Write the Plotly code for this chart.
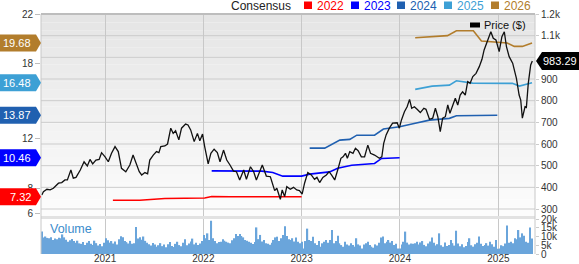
import plotly.graph_objects as go
import pandas as pd

# ---------------- data ----------------
price_dates = [
    "2020-05-11", "2020-05-17", "2020-05-30", "2020-06-11", "2020-06-23", "2020-07-12", "2020-07-24",
    "2020-08-05", "2020-08-14", "2020-08-27", "2020-09-05", "2020-09-15", "2020-10-01", "2020-10-15",
    "2020-10-27", "2020-11-06", "2020-11-16", "2020-11-28", "2020-12-10", "2020-12-19", "2021-01-01",
    "2021-01-13", "2021-01-25", "2021-02-07", "2021-02-19", "2021-03-03", "2021-03-19", "2021-04-03",
    "2021-04-15", "2021-04-28", "2021-05-08", "2021-05-17", "2021-05-29", "2021-06-08", "2021-06-16",
    "2021-06-29", "2021-07-11", "2021-07-20", "2021-07-27", "2021-08-11", "2021-08-21", "2021-09-02",
    "2021-09-11", "2021-09-20", "2021-10-02", "2021-10-12", "2021-10-27", "2021-11-05", "2021-11-15",
    "2021-11-28", "2021-12-10", "2021-12-19", "2021-12-29", "2022-01-06", "2022-01-19", "2022-01-29",
    "2022-02-10", "2022-02-22", "2022-03-04", "2022-03-17", "2022-03-29", "2022-04-10", "2022-04-23",
    "2022-05-04", "2022-05-16", "2022-05-31", "2022-06-10", "2022-06-25", "2022-07-07", "2022-07-17",
    "2022-07-27", "2022-08-08", "2022-08-23", "2022-09-07", "2022-09-23", "2022-10-01", "2022-10-14",
    "2022-10-21", "2022-10-30", "2022-11-07", "2022-11-20", "2022-12-02", "2022-12-14", "2022-12-24",
    "2023-01-03", "2023-01-12", "2023-01-24", "2023-02-06", "2023-02-18", "2023-02-27", "2023-03-09",
    "2023-03-21", "2023-04-03", "2023-04-13", "2023-04-22", "2023-05-04", "2023-05-17", "2023-05-27",
    "2023-06-04", "2023-06-13", "2023-06-20", "2023-06-29", "2023-07-11", "2023-07-20", "2023-07-30",
    "2023-08-11", "2023-08-23", "2023-09-04", "2023-09-14", "2023-09-29", "2023-10-17", "2023-10-26",
    "2023-11-02", "2023-11-11", "2023-11-23", "2023-12-05", "2023-12-22", "2023-12-30", "2024-01-07",
    "2024-01-18", "2024-01-28", "2024-02-06", "2024-02-14", "2024-02-24", "2024-03-05", "2024-03-17",
    "2024-03-30", "2024-04-07", "2024-04-20", "2024-05-02", "2024-05-12", "2024-05-21", "2024-05-30",
    "2024-06-08", "2024-06-18", "2024-06-27", "2024-07-05", "2024-07-15", "2024-07-25", "2024-08-03",
    "2024-08-12", "2024-08-21", "2024-08-31", "2024-09-09", "2024-09-18", "2024-09-28", "2024-10-10",
    "2024-10-22", "2024-11-01", "2024-11-09", "2024-11-16", "2024-11-26", "2024-12-04", "2024-12-13",
    "2024-12-23", "2025-01-04", "2025-01-14", "2025-01-23", "2025-01-31", "2025-02-10", "2025-02-23",
    "2025-03-09", "2025-03-19", "2025-03-25", "2025-03-31", "2025-04-10", "2025-04-15", "2025-04-22",
    "2025-05-01", "2025-05-07",
]
price_values = [
    365, 380, 391, 388, 396, 419, 422,
    434, 434, 480, 442, 446, 480, 518,
    499, 529, 508, 526, 529, 560, 541,
    518, 557, 588, 565, 488, 472, 503,
    549, 503, 472, 457, 468, 462, 526,
    549, 565, 560, 588, 591, 600, 673,
    649, 661, 619, 673, 692, 688, 665,
    611, 649, 615, 646, 588, 508, 557,
    576, 560, 518, 572, 526, 503, 475,
    472, 434, 480, 437, 495, 472, 434,
    465, 503, 452, 449, 385, 396, 345,
    388, 357, 403, 391, 400, 388, 385,
    369, 419, 468, 457, 437, 446, 422,
    446, 457, 472, 457, 434, 488, 534,
    541, 557, 534, 565, 557, 580, 569,
    541, 541, 595, 557, 549, 534, 541,
    603, 642, 673, 696, 698, 673, 711,
    749, 772, 806, 765, 772, 760, 745,
    765, 760, 714, 719, 765, 726, 657,
    719, 726, 780, 742, 780, 811, 780,
    826, 841, 826, 888, 880, 911, 926,
    957, 991, 1034, 1057, 1088, 1118, 1088,
    1080, 1026, 1095, 1118, 1049, 1003, 973,
    903, 826, 803, 719, 772, 769, 880,
    965, 983.29,
]

eps_2022_dates = ["2021-01-30", "2021-05-10", "2021-08-11", "2022-01-06", "2022-02-01", "2022-04-10", "2023-01-01"]
eps_2022 = [7.05, 7.05, 7.19, 7.23, 7.35, 7.33, 7.32]

eps_2023_dates = ["2022-02-01", "2022-04-28", "2022-08-06", "2022-09-16", "2022-10-23", "2023-01-01", "2023-01-31",
                  "2023-04-15", "2023-05-15", "2023-07-06", "2023-09-29", "2023-10-25", "2023-12-31"]
eps_2023 = [9.40, 9.40, 9.38, 9.27, 8.98, 8.98, 9.14, 9.32, 9.62, 9.86, 10.00, 10.40, 10.46]

eps_2024_dates = ["2023-01-31", "2023-03-28", "2023-05-23", "2023-06-29", "2023-07-25", "2023-09-29", "2023-11-01",
                  "2023-12-31", "2024-02-23", "2024-04-20", "2024-07-03", "2024-07-29", "2024-12-28"]
eps_2024 = [11.23, 11.23, 11.87, 11.93, 12.27, 12.27, 12.76, 12.94, 13.21, 13.48, 13.62, 13.83, 13.87]

eps_2025_dates = ["2024-02-27", "2024-04-30", "2024-07-03", "2024-07-29", "2024-09-27", "2025-02-22", "2025-03-20", "2025-05-06"]
eps_2025 = [15.95, 16.21, 16.29, 16.64, 16.45, 16.43, 16.21, 16.48]

eps_2026_dates = ["2024-02-27", "2024-06-26", "2024-07-29", "2024-09-30", "2024-10-30", "2025-02-03", "2025-03-01",
                  "2025-03-31", "2025-05-06"]
eps_2026 = [20.09, 20.26, 20.66, 20.66, 19.83, 19.67, 19.40, 19.40, 19.68]

# weekly volume (thousands), first week starting 2020-05-11
vol_start = "2020-05-11"
vol_2020 = [12.8, 9.5, 10.0, 9.2, 9.0, 9.6, 8.0, 8.8, 8.4, 9.3, 9.0, 11.2, 9.5, 8.2, 7.0, 7.8, 8.6, 7.5, 6.5, 7.6,
            6.1, 5.8, 6.8, 5.1, 6.5, 7.4, 5.8, 5.2, 7.6, 6.2, 4.8, 5.7, 4.5, 6.4]
vol_2021 = [9.0, 7.8, 6.5, 7.4, 6.0, 7.2, 5.5, 8.5, 10.2, 9.6, 7.4, 6.8, 6.0, 7.5, 5.8, 6.2, 15.4, 8.8, 9.6, 8.2,
            10.0, 7.5, 6.5, 5.6, 4.8, 6.3, 5.4, 4.2, 5.0, 6.2, 4.5, 5.4, 3.8, 5.6, 6.8, 4.6, 4.0, 5.8, 7.0, 5.1,
            4.4, 6.5, 8.5, 5.0, 6.0, 7.2, 8.8, 5.5, 6.4, 5.2, 6.0, 7.4]
vol_2022 = [10.9, 9.0, 11.8, 8.0, 19.0, 9.0, 7.4, 6.2, 6.8, 7.0, 8.4, 7.6, 7.0, 6.5, 6.2, 7.8, 9.0, 11.4, 10.3, 11.4,
            10.3, 9.5, 8.0, 7.6, 7.0, 6.5, 5.7, 6.8, 15.2, 8.5, 10.9, 7.2, 8.0, 6.2, 5.8, 5.3, 6.5, 8.0, 9.5, 9.9,
            7.5, 9.0, 10.9, 15.8, 10.3, 8.4, 8.0, 9.0, 7.2, 9.5, 7.0, 6.2]
vol_2023 = [7.0, 3.2, 7.4, 14.5, 8.0, 7.4, 9.9, 6.1, 5.1, 7.4, 4.2, 6.1, 7.0, 8.0, 6.5, 8.0, 13.7, 6.1, 7.5, 10.5,
            6.1, 5.1, 4.2, 7.0, 5.5, 4.8, 6.1, 5.1, 4.2, 9.0, 5.5, 4.8, 3.2, 5.5, 6.1, 7.0, 5.1, 4.2, 3.6, 5.5,
            4.8, 6.5, 9.5, 10.0, 6.1, 7.0, 8.0, 6.5, 7.4, 5.1, 5.8, 3.2]
vol_2024 = [3.2, 5.5, 7.0, 12.8, 6.5, 5.4, 6.0, 5.8, 6.2, 7.0, 5.4, 6.6, 7.4, 5.2, 4.4, 6.0, 7.2, 9.5, 6.4, 4.8,
            5.6, 11.8, 5.0, 4.2, 6.6, 4.6, 5.2, 8.0, 6.2, 4.8, 13.3, 6.0, 4.4, 5.6, 3.8, 4.6, 6.8, 9.0, 5.0, 4.2,
            5.6, 6.4, 10.0, 5.8, 4.6, 5.2, 6.2, 4.8, 7.0, 5.6, 4.2, 8.0]
vol_2025 = [3.0, 3.2, 5.0, 4.5, 6.0, 16.3, 6.5, 7.0, 6.2, 9.0, 8.5, 13.7, 9.5, 11.8, 10.5, 7.0, 6.5, 15.2, 8.9]

year_ticks = ["2021-01-01", "2022-01-01", "2023-01-01", "2024-01-01", "2025-01-01"]
year_labels = ["2021", "2022", "2023", "2024", "2025"]
# EPS ticks left visible by the value badges
eps_ticks = [6, 8, 12, 18, 22]
price_ticks = [300, 400, 500, 600, 700, 800, 900, 1100, 1200]
price_labels = ["300", "400", "500", "600", "700", "800", "900", "1.1k", "1.2k"]
price_grid = [300, 400, 500, 600, 700, 800, 900, 1000, 1100, 1200]
vol_ticks = [0, 5, 10, 15, 20]
vol_labels = ["0", "5k", "10k", "15k", "20k"]

series = [
    ("2022", eps_2022_dates, eps_2022, "#ff0000"),
    ("2023", eps_2023_dates, eps_2023, "#0000ff"),
    ("2024", eps_2024_dates, eps_2024, "#2060b0"),
    ("2025", eps_2025_dates, eps_2025, "#3da0d5"),
    ("2026", eps_2026_dates, eps_2026, "#b27d2c"),
]

# ---------------- figure ----------------
volume = vol_2020 + vol_2021 + vol_2022 + vol_2023 + vol_2024 + vol_2025
vol_dates = pd.date_range(vol_start, periods=len(volume), freq="7D")

FONT = "Liberation Sans, Arial, sans-serif"
W, H = 579, 264
ML, MR, MT, MB = 41, 44, 14, 10
plot_h = H - MT - MB
plot_w = W - ML - MR


def py(px):
    return (H - MB - px) / plot_h


def px_(x):
    return (x - ML) / plot_w


main_bottom = py(216)
vol_top = py(219)

fig = go.Figure()
fig.add_trace(go.Bar(x=vol_dates, y=volume, yaxis="y3", marker=dict(color="#6aa5db", line=dict(width=0)),
                     hoverinfo="skip", showlegend=False))
for name, d, v, c in series:
    fig.add_trace(go.Scatter(x=d, y=v, mode="lines", yaxis="y", name=name,
                             line=dict(color=c, width=1.6), showlegend=False))
fig.add_trace(go.Scatter(x=price_dates, y=price_values, mode="lines", yaxis="y2", name="Price ($)",
                         line=dict(color="#111111", width=1.3), showlegend=False))

shapes = []
# gradient background of main panel
n_bands = 24
for i in range(n_bands):
    f0 = main_bottom + (1 - main_bottom) * i / n_bands
    f1 = main_bottom + (1 - main_bottom) * (i + 1) / n_bands
    g = int(round(253 - (253 - 228) * (i + 0.5) / n_bands))
    shapes.append(dict(type="rect", xref="paper", yref="paper", x0=0, x1=1, y0=f0, y1=f1,
                       fillcolor=f"rgb({g},{g},{g})", line=dict(width=0), layer="below"))
# separator band
shapes.append(dict(type="rect", xref="paper", yref="paper", x0=0, x1=1, y0=vol_top, y1=main_bottom,
                   fillcolor="#e2e2e2", line=dict(width=0), layer="above"))
# frame
shapes.append(dict(type="line", xref="paper", yref="paper", x0=0, x1=0, y0=0, y1=1,
                   line=dict(color="#c8c8c8", width=1)))
shapes.append(dict(type="line", xref="paper", yref="paper", x0=1, x1=1, y0=0, y1=1,
                   line=dict(color="#c8c8c8", width=1)))
shapes.append(dict(type="line", xref="paper", yref="paper", x0=0, x1=1, y0=1, y1=1,
                   line=dict(color="#bdbdbd", width=2)))

annotations = []
# left value badges
for name, d, v, c in series:
    shapes.append(dict(type="path", xref="paper", xsizemode="pixel", xanchor=0,
                       yref="y", ysizemode="pixel", yanchor=v[-1],
                       path="M -41,-8.5 L -5,-8.5 L 0,0 L -5,8.5 L -41,8.5 Z",
                       fillcolor=c, line=dict(width=0), layer="above"))
    annotations.append(dict(xref="paper", x=0, xanchor="right", xshift=-8, yref="y", y=v[-1],
                            text=f"{v[-1]:.2f}", showarrow=False,
                            font=dict(family=FONT, size=11, color="white")))
# right price badge
last_price = price_values[-1]
shapes.append(dict(type="path", xref="paper", xsizemode="pixel", xanchor=1,
                   yref="y2", ysizemode="pixel", yanchor=last_price,
                   path="M 1,0 L 7,-9 L 44,-9 L 44,9 L 7,9 Z",
                   fillcolor="#000000", line=dict(width=0), layer="above"))
annotations.append(dict(xref="paper", x=1, xanchor="left", xshift=6, yref="y2", y=last_price,
                        text=f"{last_price:.2f}", showarrow=False,
                        font=dict(family=FONT, size=11, color="white")))

# top legend
annotations.append(dict(xref="paper", yref="paper", x=px_(229), y=py(5.5), xanchor="left", yanchor="middle",
                        text="Consensus", showarrow=False, font=dict(family=FONT, size=12, color="#222222")))
sq_x = [304, 351, 397, 444, 491]
for (name, d, v, c), sx in zip(series, sq_x):
    shapes.append(dict(type="rect", xref="paper", yref="paper", x0=px_(sx), x1=px_(sx + 8),
                       y0=py(9), y1=py(1.5), fillcolor=c, line=dict(width=0)))
    annotations.append(dict(xref="paper", yref="paper", x=px_(sx + 11), y=py(5.5), xanchor="left",
                            yanchor="middle", text=name, showarrow=False,
                            font=dict(family=FONT, size=12, color=c)))
# price legend
shapes.append(dict(type="rect", xref="paper", yref="paper", x0=px_(470), x1=px_(480),
                   y0=py(27.5), y1=py(22.5), fillcolor="#000000", line=dict(width=0)))
annotations.append(dict(xref="paper", yref="paper", x=px_(482), y=py(25), xanchor="left", yanchor="middle",
                        text="Price ($)", showarrow=False, font=dict(family=FONT, size=11, color="#111111")))
# volume label
annotations.append(dict(xref="paper", yref="paper", x=px_(48), y=py(229), xanchor="left", yanchor="middle",
                        text="Volume", showarrow=False, font=dict(family=FONT, size=12.5, color="#3b8ccc")))

# horizontal price gridlines (including the one under the price badge)
for gv in price_grid:
    shapes.append(dict(type="line", xref="paper", yref="y2", x0=0, x1=1, y0=gv, y1=gv,
                       line=dict(color="#cccccc", width=1), layer="below"))

fig.update_layout(
    width=W, height=H,
    margin=dict(l=ML, r=MR, t=MT, b=MB, pad=0),
    paper_bgcolor="white", plot_bgcolor="white",
    font=dict(family=FONT, size=10, color="#333333"),
    showlegend=False, bargap=0.3,
    xaxis=dict(type="date", range=["2020-05-08", "2025-05-17"], anchor="y3",
               tickvals=year_ticks, ticktext=year_labels, showgrid=True, gridcolor="#c8c8c8", gridwidth=1,
               ticks="", showline=False, zeroline=False, automargin=False, ticklabelstandoff=-3,
               tickfont=dict(family=FONT, size=10, color="#333333")),
    yaxis=dict(domain=[main_bottom, 1], range=[5.78, 22], side="left", anchor="x",
               tickvals=eps_ticks, ticks="outside", ticklen=5, tickcolor="#bdbdbd",
               showgrid=False, zeroline=False, showline=False, automargin=False,
               tickfont=dict(family=FONT, size=10, color="#333333")),
    yaxis2=dict(overlaying="y", side="right", anchor="x", range=[267.7, 1200],
                tickvals=price_ticks, ticktext=price_labels, showgrid=False,
                ticks="outside", ticklen=3, tickcolor="#cccccc", zeroline=False, showline=False,
                automargin=False, tickfont=dict(family=FONT, size=10, color="#333333")),
    yaxis3=dict(domain=[0, vol_top], range=[0, 20], side="right", anchor="x",
                tickvals=vol_ticks, ticktext=vol_labels, showgrid=False, zeroline=False,
                ticks="outside", ticklen=3, tickcolor="#cccccc", showline=False, automargin=False,
                tickfont=dict(family=FONT, size=10, color="#333333")),
    shapes=shapes, annotations=annotations,
)

fig.write_html("out.html")
